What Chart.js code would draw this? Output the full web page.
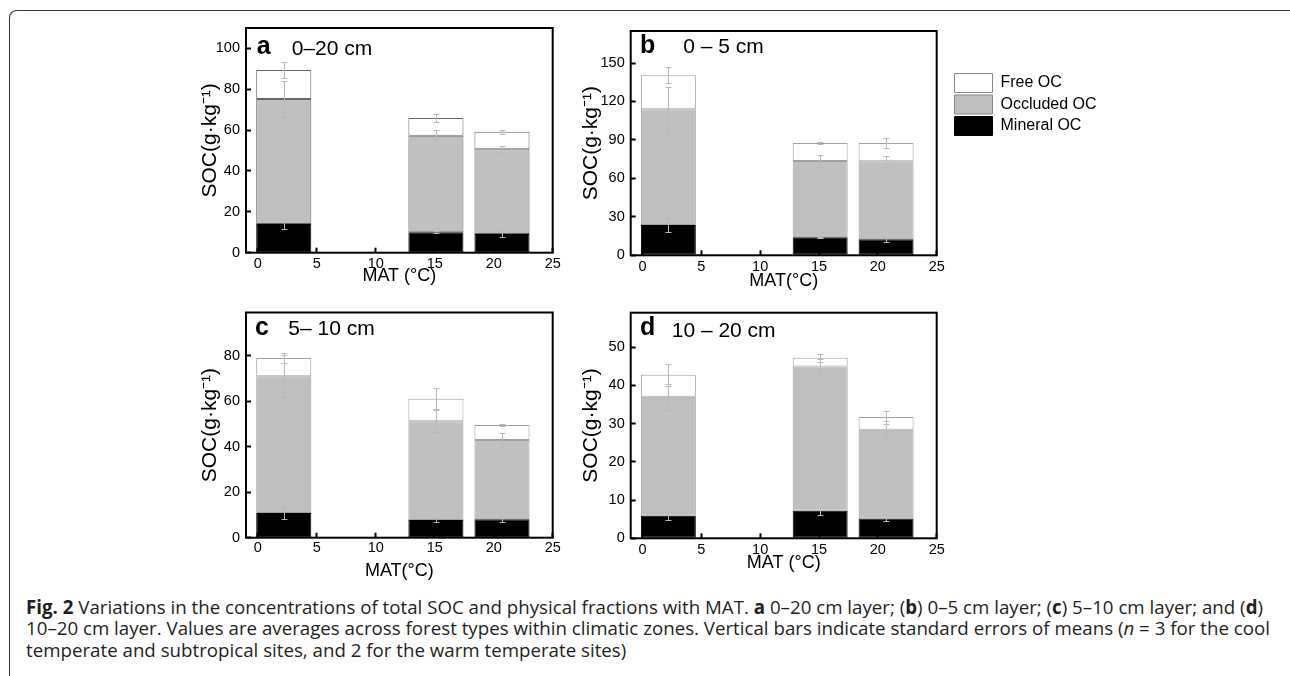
<!DOCTYPE html>
<html>
<head>
<meta charset="utf-8">
<script src="https://cdn.jsdelivr.net/npm/chart.js@4.4.1/dist/chart.umd.min.js"></script>
<style>
  html, body { margin: 0; padding: 0; background: #fff; }
  body { width: 1290px; height: 676px; position: relative; overflow: hidden; }
  .frame { position: absolute; left: 8.5px; top: 10px; width: 1289px; height: 720px;
           border: 1.6px solid #333; border-bottom: none; border-radius: 8px 8px 0 0; box-sizing: border-box; }
  canvas { position: absolute; }
  #caption { position: absolute; left: 25.7px; top: 597px; font-family: "Open Sans", sans-serif;
             font-size: 19px; line-height: 21.3px; color: #231f20; white-space: nowrap; transform-origin: 0 0; }
  #caption .ln { width: max-content; }
</style>
</head>
<body>
<div class="frame"></div>
<canvas id="panelA" width="390" height="290" style="left:180px;top:0px"></canvas>
<canvas id="panelB" width="390" height="290" style="left:565px;top:0px"></canvas>
<canvas id="panelC" width="390" height="300" style="left:180px;top:290px"></canvas>
<canvas id="panelD" width="390" height="300" style="left:565px;top:290px"></canvas>
<canvas id="legend" width="300" height="80" style="left:951.5px;top:70.5px"></canvas>
<div id="caption">
  <div class="ln" id="line1"><b>Fig. 2</b> Variations in the concentrations of total SOC and physical fractions with MAT. <b>a</b> 0–20 cm layer; (<b>b</b>) 0–5 cm layer; (<b>c</b>) 5–10 cm layer; and (<b>d</b>)</div>
  <div class="ln">10–20 cm layer. Values are averages across forest types within climatic zones. Vertical bars indicate standard errors of means (<i>n</i> = 3 for the cool</div>
  <div class="ln">temperate and subtropical sites, and 2 for the warm temperate sites)</div>
</div>
<script>
// MAT of the three climatic zones (°C)
const mat = [2.2, 15.1, 20.7];
const xTickValues = [0, 5, 10, 15, 20, 25];
const seriesNames = ['Mineral OC', 'Occluded OC', 'Free OC'];

// a 0-20 cm
const mineralA = [14, 10, 9.1];
const occludedA = [61.2, 47.2, 41.5];
const freeA = [14.3, 8.8, 8.6];
const errMineralA = [2.5, 0.6, 1.3];
const errOccludedA = [9, 2.8, 1.6];
const errFreeA = [4, 2, 0.9];
const yTicksA = [0, 20, 40, 60, 80, 100];

// b 0-5 cm
const mineralB = [23.7, 14.1, 12.5];
const occludedB = [90.3, 59.5, 60.9];
const freeB = [26.5, 14.1, 14.3];
const errMineralB = [5.3, 0.5, 2];
const errOccludedB = [17, 4.5, 4.3];
const errFreeB = [6.4, 1, 4];
const yTicksB = [0, 30, 60, 90, 120, 150];

// c 5-10 cm
const mineralC = [10.9, 7.8, 8.1];
const occludedC = [60.1, 43.4, 34.8];
const freeC = [8, 9.9, 6.6];
const errMineralC = [2.6, 0.7, 1.4];
const errOccludedC = [9.3, 4.8, 3];
const errFreeC = [2.4, 4.5, 0.5];
const yTicksC = [0, 20, 40, 60, 80];

// d 10-20 cm
const mineralD = [5.9, 7.2, 5.2];
const occludedD = [31.1, 37.7, 23.2];
const freeD = [5.8, 2.3, 3.3];
const errMineralD = [1, 1.1, 0.8];
const errOccludedD = [3.4, 2, 2.3];
const errFreeD = [2.9, 1, 1.7];
const yTicksD = [0, 10, 20, 30, 40, 50];

const FONT = '"Liberation Sans", Arial, sans-serif';
const fills = ['#000', '#c0c0c0', '#fff'];

// standard error whiskers on top of each stacked segment
const errorBars = {
  id: 'errorBars',
  afterDatasetsDraw(chart, args, opts) {
    const { ctx, scales: { x, y } } = chart;
    const base = mat.map(() => 0);
    ctx.save();
    ctx.strokeStyle = '#b8b8b8';
    ctx.lineWidth = 1;
    chart.data.datasets.forEach((ds, d) => {
      ds.data.forEach((pt, i) => {
        base[i] += pt.y;
        const e = opts.errors[d][i];
        const px = Math.round(x.getPixelForValue(pt.x)) + 0.5;
        const hi = Math.round(y.getPixelForValue(base[i] + e)) + 0.5;
        const lo = Math.round(y.getPixelForValue(base[i] - e)) + 0.5;
        ctx.beginPath();
        ctx.moveTo(px, hi); ctx.lineTo(px, lo);
        ctx.moveTo(px - 3, hi); ctx.lineTo(px + 3, hi);
        ctx.moveTo(px - 3, lo); ctx.lineTo(px + 3, lo);
        ctx.stroke();
      });
    });
    ctx.restore();
  }
};

const boxFrame = {
  id: 'boxFrame',
  afterDatasetsDraw(chart) {
    const { ctx, chartArea: a } = chart;
    ctx.save();
    ctx.strokeStyle = '#000';
    ctx.lineWidth = 2;
    ctx.strokeRect(a.left, a.top, a.right - a.left, a.bottom - a.top);
    ctx.restore();
  }
};

// panel letter + soil depth inside the plot
const panelTag = {
  id: 'panelTag',
  afterDraw(chart, args, o) {
    const { ctx, chartArea: a } = chart;
    ctx.save();
    ctx.fillStyle = '#000';
    ctx.textBaseline = 'alphabetic';
    ctx.font = 'bold 25px ' + FONT;
    ctx.fillText(o.letter, a.left + o.lx, a.top + o.ly);
    ctx.font = '21px ' + FONT;
    ctx.fillText(o.depth, a.left + o.tx, a.top + o.ty);
    ctx.restore();
  }
};

function points(vals) {
  return vals.map((v, i) => ({ x: mat[i], y: v }));
}

function datasets(series, edge) {
  return series.map((vals, k) => ({
    label: seriesNames[k],
    data: points(vals),
    backgroundColor: fills[k],
    borderColor: k === 0 ? '#000' : edge,
    borderWidth: 1,
    borderSkipped: false,
    categoryPercentage: 0.934,
    barPercentage: 1
  }));
}

function makePanel(id, p) {
  new Chart(document.getElementById(id), {
    type: 'bar',
    data: { datasets: datasets(p.series, p.edge) },
    options: {
      responsive: false,
      animation: false,
      layout: { padding: { top: p.top, right: p.right, bottom: 0, left: 0 } },
      plugins: {
        legend: { display: false },
        tooltip: { enabled: false },
        errorBars: { errors: p.errors },
        panelTag: p.tag
      },
      scales: {
        x: {
          type: 'linear', stacked: true, offset: false, min: -1, max: 25,
          afterBuildTicks: s => { s.ticks = xTickValues.map(v => ({ value: v })); },
          afterFit: s => { s.height = p.xh; },
          grid: { offset: false, drawOnChartArea: false, drawTicks: true, tickLength: -5, tickColor: '#000', tickWidth: 2 },
          border: { display: false },
          ticks: { color: '#000', padding: p.xpad, maxRotation: 0, font: { family: FONT, size: 14.5, lineHeight: 1 } },
          title: { display: true, text: p.xTitle, color: '#000', padding: { top: 0, bottom: p.xTitlePad },
                   font: { family: FONT, size: 18, lineHeight: 1 } }
        },
        y: {
          type: 'linear', stacked: true, min: 0, max: p.ymax,
          afterBuildTicks: s => { s.ticks = p.yTicks.map(v => ({ value: v })); },
          afterFit: s => { s.width = p.yw; },
          grid: { drawOnChartArea: false, drawTicks: true, tickLength: -5, tickColor: '#000', tickWidth: 2 },
          border: { display: false },
          ticks: { color: '#000', padding: p.ypad, font: { family: FONT, size: 14.5, lineHeight: 1 } },
          title: { display: true, text: 'SOC(g·kg⁻¹)', color: '#000', padding: { top: p.yTitlePad, bottom: 0 },
                   font: { family: FONT, size: 21, lineHeight: 1 } }
        }
      }
    },
    plugins: [errorBars, boxFrame, panelTag]
  });
}

makePanel('panelA', {
  series: [mineralA, occludedA, freeA], errors: [errMineralA, errOccludedA, errFreeA],
  yTicks: yTicksA, ymax: 110, edge: '#666',
  top: 28, right: 17.3, yw: 66, xh: 37.3, xpad: 8.75, ypad: 11, xTitlePad: 5.3, yTitlePad: 20.2,
  xTitle: 'MAT (°C)', tag: { letter: 'a', depth: '0–20 cm', lx: 10.7, ly: 26, tx: 45.7, ty: 27 }
});
makePanel('panelB', {
  series: [mineralB, occludedB, freeB], errors: [errMineralB, errOccludedB, errFreeB],
  yTicks: yTicksB, ymax: 175, edge: '#a0a0a0',
  top: 31, right: 18.3, yw: 65.7, xh: 34.7, xpad: 9.15, ypad: 11, xTitlePad: 0, yTitlePad: 16.2,
  xTitle: 'MAT(°C)', tag: { letter: 'b', depth: '0 – 5 cm', lx: 9.3, ly: 22.3, tx: 52.6, ty: 22.3 }
});
makePanel('panelC', {
  series: [mineralC, occludedC, freeC], errors: [errMineralC, errOccludedC, errFreeC],
  yTicks: yTicksC, ymax: 99, edge: '#a0a0a0',
  top: 22.5, right: 17.3, yw: 66, xh: 52.3, xpad: 8.05, ypad: 11, xTitlePad: 9.7, yTitlePad: 20.2,
  xTitle: 'MAT(°C)', tag: { letter: 'c', depth: '5– 10 cm', lx: 9, ly: 22.5, tx: 42.3, ty: 22.5 }
});
makePanel('panelD', {
  series: [mineralD, occludedD, freeD], errors: [errMineralD, errOccludedD, errFreeD],
  yTicks: yTicksD, ymax: 59, edge: '#a0a0a0',
  top: 22.7, right: 18.3, yw: 65.7, xh: 51.7, xpad: 9.45, ypad: 11, xTitlePad: 18, yTitlePad: 16.2,
  xTitle: 'MAT (°C)', tag: { letter: 'd', depth: '10 – 20 cm', lx: 9.3, ly: 22.3, tx: 41, ty: 24.3 }
});

// shared legend, top to bottom: Free, Occluded, Mineral
new Chart(document.getElementById('legend'), {
  type: 'bar',
  data: { datasets: datasets([[], [], []], '#888').reverse() },
  options: {
    responsive: false,
    animation: false,
    layout: { padding: 0 },
    scales: { x: { display: false }, y: { display: false } },
    plugins: {
      tooltip: { enabled: false },
      legend: {
        position: 'left', align: 'start',
        labels: { boxWidth: 38, boxHeight: 19, padding: 2.5, color: '#000', font: { family: FONT, size: 16 } }
      }
    }
  }
});

// fit the caption to the width of the printed text block
const cap = document.getElementById('caption');
const w1 = document.getElementById('line1').getBoundingClientRect().width;
cap.style.transform = 'scaleX(' + (1237 / w1) + ')';
</script>
</body>
</html>
